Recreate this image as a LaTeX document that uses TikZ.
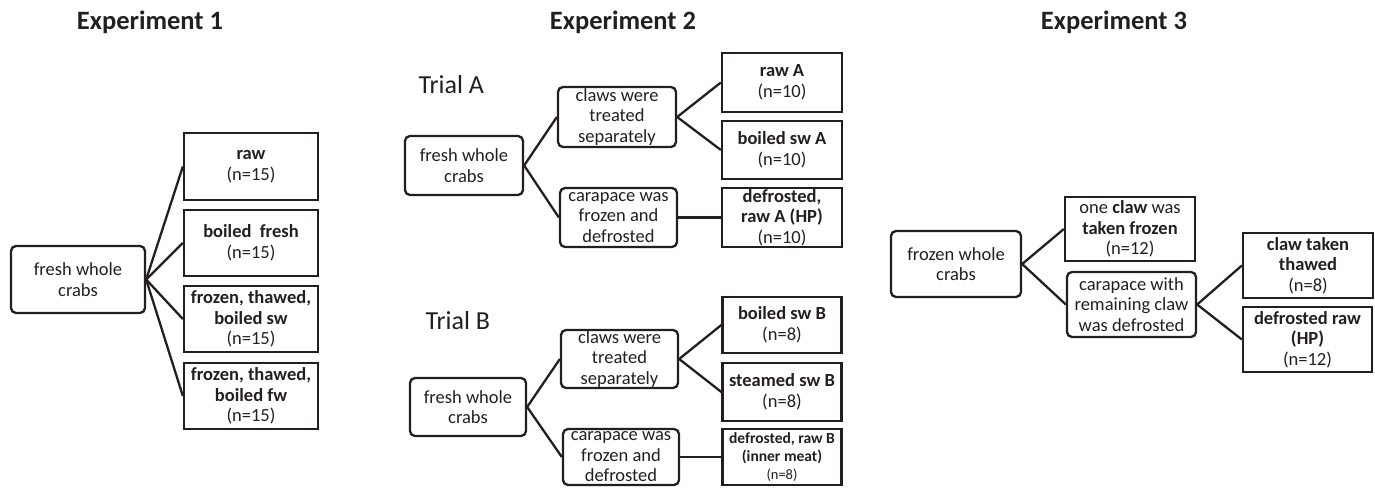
\documentclass[tikz,border=0pt]{standalone}
\usepackage{fontspec}
\setmainfont{Carlito}
\definecolor{ink}{HTML}{231F20}
\begin{document}
\begin{tikzpicture}[x=1pt,y=-1pt,
  base/.style={draw=ink, line width=2.3pt, align=center, inner sep=0pt, text=ink,
    font=\fontsize{18.5}{20.5}\selectfont},
  rbox/.style={base, rounded corners=5pt},
  sbox/.style={base},
  link/.style={line width=2.3pt, draw=ink},
  ttl/.style={font=\fontsize{26.5}{30}\selectfont\bfseries, text=ink, anchor=base},
  trial/.style={font=\fontsize{26}{30}\selectfont, text=ink, anchor=base west}]
\useasboundingbox (0,0) rectangle (1375,487);

% ---------- titles ----------
\node[ttl] (t1) at (150,30) {Experiment 1};
\node[ttl] (t2) at (623,30) {Experiment 2};
\node[ttl] (t3) at (1114,30) {Experiment 3};

% ---------- Experiment 1 ----------
\node[rbox, minimum width=134pt, minimum height=67pt] (e1root) at (78,279.5) {fresh whole\\crabs};
\node[sbox, minimum width=134pt, minimum height=67pt] (e1raw) at (251,166.5) {\textbf{raw}\\(n=15)};
\node[sbox, minimum width=134pt, minimum height=66pt] (e1boil) at (251,243) {\textbf{boiled\ \ fresh}\\(n=15)};
\node[sbox, minimum width=134pt, minimum height=66pt] (e1sw) at (251,319) {\textbf{frozen, thawed,}\\\textbf{boiled sw}\\(n=15)};
\node[sbox, minimum width=134pt, minimum height=66pt] (e1fw) at (251,396) {\textbf{frozen, thawed,}\\\textbf{boiled fw}\\(n=15)};
\foreach \t in {e1raw,e1boil,e1sw,e1fw} \draw[link] (e1root.east) -- (\t.west);

% ---------- Experiment 2, Trial A ----------
\node[trial] (ta) at (415,93) {Trial A};
\node[rbox, minimum width=118pt, minimum height=59pt] (aroot) at (464,165.5) {fresh whole\\crabs};
\node[rbox, minimum width=118pt, minimum height=60pt] (aclaw) at (617,117) {claws were\\treated\\separately};
\node[rbox, minimum width=117pt, minimum height=59pt] (acar) at (618.5,217.5) {carapace was\\frozen and\\defrosted};
\node[sbox, minimum width=120pt, minimum height=59pt] (araw) at (782,82.5) {\textbf{raw A}\\(n=10)};
\node[sbox, minimum width=120pt, minimum height=58pt] (aboil) at (782,150) {\textbf{boiled sw A}\\(n=10)};
\node[sbox, minimum width=120pt, minimum height=59pt] (adef) at (782,217.5) {\textbf{defrosted,}\\\textbf{raw A (HP)}\\(n=10)};
\draw[link] (aroot.east) -- (aclaw.west);
\draw[link] (aroot.east) -- (acar.west);
\draw[link] (aclaw.east) -- (araw.west);
\draw[link] (aclaw.east) -- (aboil.west);
\draw[link] (acar.east) -- (adef.west);

% ---------- Experiment 2, Trial B ----------
\node[trial] (tb) at (422,329) {Trial B};
\node[rbox, minimum width=116pt, minimum height=58pt] (broot) at (468,407) {fresh whole\\crabs};
\node[rbox, minimum width=117pt, minimum height=58pt] (bclaw) at (619.5,359) {claws were\\treated\\separately};
\node[rbox, minimum width=116pt, minimum height=56pt] (bcar) at (621,457) {carapace was\\frozen and\\defrosted};
\node[sbox, minimum width=119pt, minimum height=56pt] (bboil) at (782,325) {\textbf{boiled sw B}\\(n=8)};
\node[sbox, minimum width=119pt, minimum height=58pt] (bsteam) at (782,392) {\textbf{steamed sw B}\\(n=8)};
\node[sbox, minimum width=119pt, minimum height=56pt, font=\fontsize{15.5}{18}\selectfont] (bdef) at (782,457) {\textbf{defrosted, raw B}\\\textbf{(inner meat)}\\{\fontsize{14.5}{17}\selectfont(n=8)}};
\draw[link] (broot.east) -- (bclaw.west);
\draw[link] (broot.east) -- (bcar.west);
\draw[link] (bclaw.east) -- (bboil.west);
\draw[link] (bclaw.east) -- (bsteam.west);
\draw[link] (bcar.east) -- (bdef.west);

% ---------- Experiment 3 ----------
\node[rbox, minimum width=130pt, minimum height=66pt] (croot) at (956,264) {frozen whole\\crabs};
\node[sbox, minimum width=130pt, minimum height=64pt] (cone) at (1130,229) {one \textbf{claw} was\\\textbf{taken frozen}\\(n=12)};
\node[rbox, minimum width=129pt, minimum height=65pt] (ccar) at (1131.5,304.5) {carapace with\\remaining claw\\was defrosted};
\node[sbox, minimum width=130pt, minimum height=65pt] (cthaw) at (1308,265.5) {\textbf{claw taken}\\\textbf{thawed}\\(n=8)};
\node[sbox, minimum width=129pt, minimum height=65pt] (cdef) at (1307.5,339.5) {\textbf{defrosted raw}\\\textbf{(HP)}\\(n=12)};
\draw[link] (croot.east) -- (cone.west);
\draw[link] (croot.east) -- (ccar.west);
\draw[link] (ccar.east) -- (cthaw.west);
\draw[link] (ccar.east) -- (cdef.west);
\end{tikzpicture}
\end{document}
